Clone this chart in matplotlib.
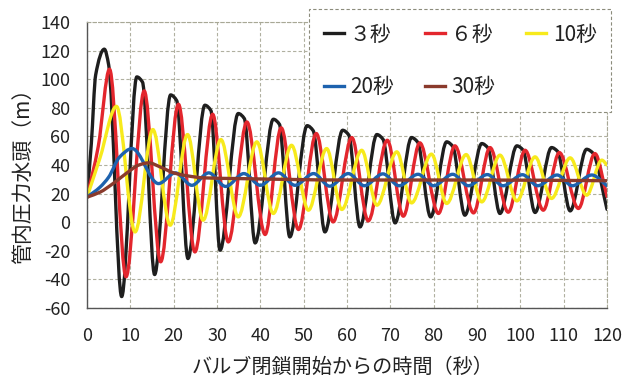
'''
Pipe pressure head after valve closure, for several closing times
'''
import numpy as np
import matplotlib
matplotlib.use("Agg")
import matplotlib.pyplot as plt
from matplotlib.path import Path
from matplotlib.patches import PathPatch
from matplotlib.lines import Line2D

# data (time s, head m)
t_3s = [0, 1.0, 2.0, 4.0, 5.0, 8.0,
        11.5, 12.8, 15.6, 19.3, 20.7, 23.3, 27.2, 28.6, 30.7,
        34.9, 36.3, 38.8, 43.0, 44.4, 46.8, 50.8, 52.2, 54.9,
        59.0, 60.4, 63.0, 66.9, 68.3, 71.1, 74.9, 76.3, 79.3,
        83.0, 84.4, 87.2, 91.1, 92.5, 95.3, 99.2, 100.6, 103.4,
        107.2, 108.6, 111.5, 115.3, 116.7, 120.0]
h_3s = [17.5, 55, 103, 121, 110, -52,
        101.6, 98, -36.6, 89, 85, -25.4, 81.8, 78, -19.6,
        76, 72.5, -14.5, 72, 68.5, -10.3, 67.5, 64, -6.8,
        64.3, 61, -3.3, 61.3, 58, -0.5, 59.2, 56, 3.7,
        56.2, 53, 4.9, 55, 52, 6.1, 53.4, 50.5, 6.8,
        52.2, 49.5, 7.9, 51, 48.5, 9]

t_6s = [0, 2.6, 5.2, 9.0, 13.2, 17.0, 21.1, 24.9, 29.0, 32.6, 36.9, 41.1,
        44.8, 48.8, 52.9, 56.8, 61.1, 64.9, 69.3, 73.0, 76.8, 81.1,
        84.9, 89.2, 93.0, 97.2, 101.1, 105.3, 109.0, 113.4, 117.2, 120.0]
h_6s = [17.5, 53, 107, -38.2, 91.8, -27.7, 82.5, -20.8, 75.5, -13.8, 70.1, -8.6,
        66, -5.1, 62, 0.2, 59.2, 0.9, 57.3, 4.2, 55.5, 6.1,
        53.4, 6.5, 52.2, 7, 50.3, 8.4, 48.7, 9.6, 48, 18]

t_10s = [0, 3.0, 6.8, 11.1, 15.2, 19.2, 23.2, 26.8, 30.9, 34.9, 39.2, 43.0,
         47.2, 51.1, 55.3, 58.8, 63.4, 66.9, 71.5, 74.9, 79.5, 83.0,
         87.5, 91.1, 95.3, 99.2, 103.4, 107.2, 111.5, 115.3, 118.8, 120.0]
h_10s = [17.5, 45, 81, -6.8, 64.8, -2.1, 61.3, 1.4, 57.8, 3.7, 56.2, 6.1,
         53.8, 8.4, 51.5, 8.9, 50.3, 11.9, 49.2, 13.5, 47.6, 13.1,
         47.3, 14.2, 46.9, 14.9, 45.7, 16.6, 45, 18.9, 43.4, 40]

t_20s = [0, 3, 5, 7.5, 10.4, 16.5, 20.4, 24.2, 28.1, 32, 36.2, 40, 44.2, 48,
         52.3, 56, 60.3, 64, 68.3, 72, 76.4, 80, 84.4, 88, 92.4, 96,
         100.5, 104, 108.5, 112, 116.5, 120]
h_20s = [17.5, 24.5, 31.5, 45.5, 51.5, 27, 34.5, 25.8, 34.5, 25, 34, 25.8, 34.5, 25.8,
         34, 25.2, 34, 25.5, 33.8, 25.5, 33.5, 25.5, 33.5, 25.5, 33.3, 25.5,
         33.2, 25.5, 33, 25.5, 33, 25.5]

t_30s = [0, 3, 6, 9, 12, 14.2, 17, 20, 23, 27, 35, 60, 90, 120]
h_30s = [17.5, 21, 27, 34, 40, 41.5, 38.5, 34.5, 32.5, 31, 30.5, 29.5, 29.5, 29]

labels = ["３秒", "６秒", "10秒", "20秒", "30秒"]
colors = ["#1e1e1e", "#e3262d", "#f7ea1c", "#1d62ae", "#8a3a2c"]

x_ticks = list(range(0, 121, 10))
y_ticks = list(range(-60, 141, 20))

JP = ["Noto Sans CJK JP", "DejaVu Sans"]


def smooth_path(t, h):
    # smooth line through the points (monotone cubic, drawn as bezier)
    x = np.asarray(t, float)
    y = np.asarray(h, float)
    dx = np.diff(x)
    d = np.diff(y) / dx
    m = np.zeros_like(y)
    for i in range(1, len(y) - 1):
        if d[i - 1] * d[i] > 0:
            w1 = 2 * dx[i] + dx[i - 1]
            w2 = dx[i] + 2 * dx[i - 1]
            m[i] = (w1 + w2) / (w1 / d[i - 1] + w2 / d[i])
    m[0] = d[0]
    m[-1] = d[-1]
    verts = [(x[0], y[0])]
    codes = [Path.MOVETO]
    for i in range(len(x) - 1):
        s = dx[i] / 3
        verts += [(x[i] + s, y[i] + m[i] * s),
                  (x[i + 1] - s, y[i + 1] - m[i + 1] * s),
                  (x[i + 1], y[i + 1])]
        codes += [Path.CURVE4] * 3
    return Path(verts, codes)


def main():
    plt.rcParams["axes.unicode_minus"] = False
    fig = plt.figure(figsize=(6.36, 3.78), dpi=100)
    ax = fig.add_axes([87 / 636, 1 - 308 / 378, 520 / 636, 286 / 378])

    series = [(t_3s, h_3s), (t_6s, h_6s), (t_10s, h_10s), (t_20s, h_20s), (t_30s, h_30s)]
    handles = []
    for (t, h), c, lab in zip(series, colors, labels):
        patch = PathPatch(smooth_path(t, h), fill=False, edgecolor=c, lw=2.4,
                          capstyle="round", joinstyle="round")
        ax.add_patch(patch)
        handles.append(Line2D([], [], color=c, lw=2.4, label=lab))

    ax.set_xlim(0, 120)
    ax.set_ylim(-60, 140)
    ax.set_xticks(x_ticks)
    ax.set_yticks(y_ticks)
    ax.set_xticklabels([str(v) for v in x_ticks], family=JP, fontsize=13, color="#222222")
    ax.set_yticklabels([str(v) for v in y_ticks], family=JP, fontsize=13, color="#222222")
    ax.tick_params(axis="x", length=0, pad=14)
    ax.tick_params(axis="y", length=0, pad=12)

    ax.grid(True, color="#b0b0a0", lw=0.8, ls=(0, (3, 2)))
    ax.set_axisbelow(True)
    for s in ["left", "bottom"]:
        ax.spines[s].set_color("#555555")
        ax.spines[s].set_linewidth(1.0)
    for s in ["top", "right"]:
        ax.spines[s].set_color("#a8a896")
        ax.spines[s].set_linestyle((0, (3, 2)))
        ax.spines[s].set_linewidth(0.8)

    fig.text(23 / 636, 1 - 171 / 378, "管内圧力水頭（m）", rotation=90,
             ha="center", va="center", family=JP, fontsize=15, color="#222222")
    fig.text(343 / 636, 1 - 367 / 378, "バルブ閉鎖開始からの時間（秒）",
             ha="center", va="center", family=JP, fontsize=14.5, color="#222222")

    # legend filled row by row: 3, 6, 10 / 20, 30
    order = [0, 3, 1, 4, 2]
    leg = ax.legend([handles[i] for i in order], [labels[i] for i in order],
                    ncol=3, loc="upper left",
                    bbox_to_anchor=(309 / 636, 1 - 9 / 378), bbox_transform=fig.transFigure,
                    borderaxespad=0, borderpad=0.7, handlelength=0.96,
                    handletextpad=0.3, columnspacing=1.5, labelspacing=1.45,
                    fancybox=False, framealpha=1,
                    prop={"family": JP, "size": 15})
    leg.get_frame().set_edgecolor("#8c8c7c")
    leg.get_frame().set_linestyle((0, (3, 2)))
    leg.get_frame().set_linewidth(0.8)
    for txt in leg.get_texts():
        txt.set_color("#222222")

    fig.savefig("out.png", dpi=100)


if __name__ == "__main__":
    main()
